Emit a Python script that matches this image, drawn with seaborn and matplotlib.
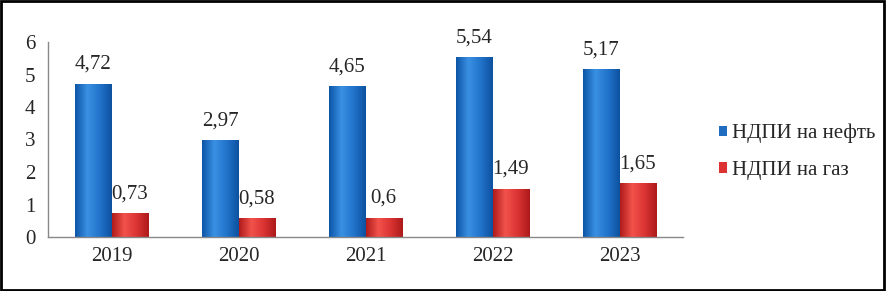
import numpy as np
import pandas as pd
import matplotlib
matplotlib.use("Agg")
import matplotlib.pyplot as plt
import seaborn as sns
from matplotlib.colors import LinearSegmentedColormap
from matplotlib.patches import Rectangle

years = ["2019", "2020", "2021", "2022", "2023"]
oil = [4.72, 2.97, 4.65, 5.54, 5.17]
gas = [0.73, 0.58, 0.6, 1.49, 1.65]
series = ["НДПИ на нефть", "НДПИ на газ"]

df = pd.DataFrame({
    "year": years * 2,
    "value": oil + gas,
    "tax": [series[0]] * len(years) + [series[1]] * len(years),
})

sns.set_style("white")
plt.rcParams["font.family"] = ["Liberation Serif", "DejaVu Serif"]

fig = plt.figure(figsize=(8.86, 2.91), dpi=100)
ax = fig.add_axes([48 / 886, (291 - 237) / 291, 635 / 886, 195 / 291])

colors = {series[0]: "#1f6cc0", series[1]: "#dc3232"}
sns.barplot(data=df, x="year", y="value", hue="tax", palette=colors,
            width=0.57, gap=0, ax=ax, legend=True, saturation=1)

# horizontal gradient to mimic the cylinder look
grads = {
    series[0]: LinearSegmentedColormap.from_list("b", ["#0d56a8", "#3a90e2", "#2274cc", "#0d52a0"]),
    series[1]: LinearSegmentedColormap.from_list("r", ["#b01c1c", "#f2524b", "#dc3434", "#ad1a1a"]),
}
grad = np.linspace(0, 1, 64).reshape(1, -1)
for cont, name in zip(ax.containers, series):
    for bar in cont:
        x0, y0 = bar.get_x(), bar.get_y()
        w, h = bar.get_width(), bar.get_height()
        im = ax.imshow(grad, cmap=grads[name], aspect="auto",
                       extent=[x0, x0 + w, y0, y0 + h], zorder=bar.get_zorder() + 0.1)
        im.set_clip_path(bar)
    ax.bar_label(cont, labels=[f"{v:g}".replace(".", ",") for v in cont.datavalues],
                 padding=7, fontsize=15)

ax.set_xlim(-0.5, 4.5)
ax.set_ylim(0, 6)
ax.set_yticks(range(7))
ax.set_xlabel("")
ax.set_ylabel("")
ax.tick_params(axis="both", labelsize=15, length=4, color="#888888", width=1)
ax.tick_params(axis="x", length=0, pad=7)
ax.set_xticks(np.arange(-0.5, 5, 1), minor=True)
ax.tick_params(axis="x", which="minor", length=5, color="#888888", direction="out")
ax.tick_params(axis="y", direction="out", pad=5)
for side in ["top", "right"]:
    ax.spines[side].set_visible(False)
for side in ["left", "bottom"]:
    ax.spines[side].set_color("#888888")
    ax.spines[side].set_linewidth(1)

handles = [Rectangle((0, 0), 1, 1, facecolor=colors[s], edgecolor="none") for s in series]
ax.legend(handles, series, loc="center left", bbox_to_anchor=(700 / 886, 0.478),
          bbox_transform=fig.transFigure, frameon=False, fontsize=15,
          handlelength=0.4, handleheight=0.4, handletextpad=0.25, labelspacing=0.85)

fig.patches.append(Rectangle((0.001, 0.002), 0.997, 0.995, transform=fig.transFigure,
                             fill=False, edgecolor="black", linewidth=2))

fig.savefig("out.png", dpi=100)
